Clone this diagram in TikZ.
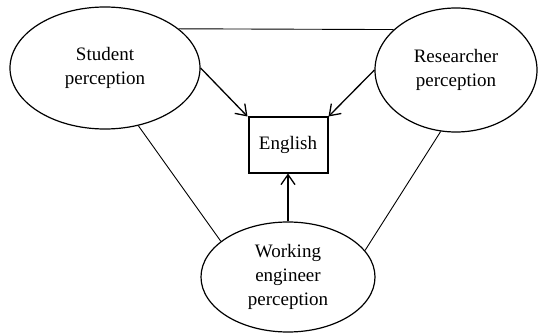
\documentclass[tikz,border=0pt]{standalone}
\usepackage{fontspec}
\newfontfamily\tnr{Liberation Serif}
\usetikzlibrary{shapes.geometric,arrows.meta}
\begin{document}
\begin{tikzpicture}[x=1pt,y=-1pt,
  oval/.style={draw,ellipse,line width=1.2pt,inner sep=0pt,align=center,
    font=\tnr\fontsize{19}{24}\selectfont},
  box/.style={draw,rectangle,line width=2pt,inner sep=0pt,
    font=\tnr\fontsize{19}{24}\selectfont},
  link/.style={line width=0.9pt},
  arr/.style={line width=1.3pt,-{Straight Barb[length=10pt,width=14pt,line width=1.3pt]}}]
\useasboundingbox (0,0) rectangle (538,334);
\node[oval,minimum width=190pt,minimum height=122pt] (stu) at (105,68) {Student\\perception};
\node[oval,minimum width=162pt,minimum height=124pt] (res) at (456,70) {Researcher\\perception};
\node[oval,minimum width=174pt,minimum height=110pt] (wor) at (288,277) {Working\\engineer\\perception};
\node[box,minimum width=79pt,minimum height=55pt] (eng) at (288,145) {English};
\draw[link] (stu.28) -- (res.147);
\draw[link] (stu.-60) -- (wor.152);
\draw[link] (res.256) -- (wor.19.6);
\draw[arr] (stu.east) -- (eng.north west);
\draw[arr] (res.west) -- (eng.north east);
\draw[arr] (wor.north) -- (eng.south);
\end{tikzpicture}
\end{document}
